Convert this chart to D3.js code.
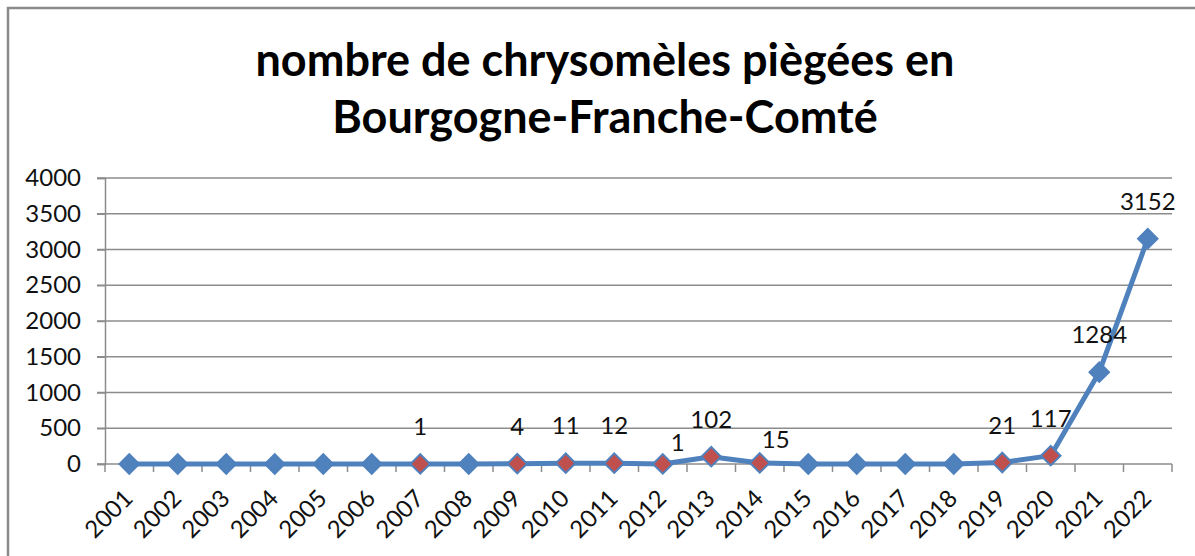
<!DOCTYPE html>
<html><head><meta charset="utf-8">
<script src="https://cdn.jsdelivr.net/npm/d3@7"></script>
<style>
html,body{margin:0;padding:0;background:#fff;}
svg{display:block;font-family:Lato,"Open Sans",sans-serif;}
</style></head>
<body>
<svg id="chart" width="1195" height="556"></svg>
<script>
const years = ["2001","2002","2003","2004","2005","2006","2007","2008","2009","2010","2011","2012","2013","2014","2015","2016","2017","2018","2019","2020","2021","2022"];
const counts = [0,0,0,0,0,0,1,0,4,11,12,1,102,15,0,0,0,0,21,117,1284,3152];
const labelled = ["2007","2009","2010","2011","2012","2013","2014","2019","2020","2021","2022"];
const highlighted = ["2007","2009","2010","2011","2012","2013","2014","2019","2020"];
const yTicks = [0,500,1000,1500,2000,2500,3000,3500,4000];
const titleLines = ["nombre de chrysomèles piègées en","Bourgogne-Franche-Comté"];

// label placement tweaks (layout, not data)
const labelShift = {"2012":[15,16],"2014":[16,14]};

const svg = d3.select("#chart");
const W = 1195, H = 556;
const plot = {left:105, right:1172, top:178, bottom:464};

svg.append("rect").attr("x",8).attr("y",8).attr("width",W+20).attr("height",H+20)
  .attr("fill","#fff").attr("stroke","#8a8a8a").attr("stroke-width",2.5);

// title
svg.append("g").selectAll("text").data(titleLines).join("text")
  .attr("x",605).attr("y",(d,i)=>76+i*57)
  .attr("text-anchor","middle").attr("font-weight","bold").attr("font-size",45)
  .attr("fill","#000").text(d=>d);

const x = d3.scaleBand().domain(years).range([plot.left,plot.right]);
const y = d3.scaleLinear().domain([0,4000]).range([plot.bottom,plot.top]);

// gridlines
svg.append("g").selectAll("line").data(yTicks.filter(v=>v>0)).join("line")
  .attr("x1",plot.left-8).attr("x2",plot.right)
  .attr("y1",d=>y(d)).attr("y2",d=>y(d))
  .attr("stroke","#8c8c8c").attr("stroke-width",1.5);

// y axis
const yAxis = d3.axisLeft(y).tickValues(yTicks).tickSize(8).tickPadding(16).tickFormat(d3.format("d"));
const gy = svg.append("g").attr("transform",`translate(${plot.left},0)`).call(yAxis);
gy.attr("font-size",null).attr("font-family",null);
gy.select(".domain").attr("stroke","#8c8c8c").attr("stroke-width",1.5);
gy.selectAll(".tick line").attr("stroke","#8c8c8c").attr("stroke-width",1.5);
gy.selectAll(".tick text").style("font-size","24px").attr("fill","#111").style("font-family","Lato, 'Open Sans', sans-serif");

// x axis baseline and boundary ticks
const bounds = years.map(d=>x(d)).concat([plot.right]);
svg.append("line").attr("x1",plot.left-8).attr("x2",plot.right)
  .attr("y1",y(0)).attr("y2",y(0)).attr("stroke","#8c8c8c").attr("stroke-width",1.5);
svg.append("g").selectAll("line").data(bounds).join("line")
  .attr("x1",d=>d).attr("x2",d=>d).attr("y1",y(0)).attr("y2",y(0)+8)
  .attr("stroke","#8c8c8c").attr("stroke-width",1.5);

// x labels
const cx = d => x(d)+x.bandwidth()/2;
svg.append("g").selectAll("text").data(years).join("text")
  .attr("transform",d=>`translate(${cx(d)+5},${y(0)+36}) rotate(-45)`)
  .attr("text-anchor","end")
  .style("font-size","24px").attr("fill","#111").text(d=>d);

// line
const pts = years.map((d,i)=>({year:d,v:counts[i]}));
svg.append("path").datum(pts)
  .attr("d",d3.line().x(d=>cx(d.year)).y(d=>y(d.v)))
  .attr("fill","none").attr("stroke","#4F81BD").attr("stroke-width",5).attr("stroke-linejoin","round");

// markers
const diamond = d3.symbol().type(d3.symbolSquare).size(190);
svg.append("g").selectAll("path").data(pts).join("path")
  .attr("d",diamond())
  .attr("transform",d=>`translate(${cx(d.year)},${y(d.v)}) rotate(45)`)
  .attr("fill",d=>highlighted.includes(d.year)?"#C0504D":"#4F81BD")
  .attr("stroke","#4F81BD").attr("stroke-width",2);

// data labels
svg.append("g").selectAll("text").data(pts.filter(d=>labelled.includes(d.year))).join("text")
  .attr("x",d=>cx(d.year)+(labelShift[d.year]?labelShift[d.year][0]:0))
  .attr("y",d=>y(d.v)-35+(labelShift[d.year]?labelShift[d.year][1]:0))
  .attr("text-anchor","middle").attr("dominant-baseline","middle")
  .style("font-size","24px").attr("fill","#111").text(d=>d.v);
</script>
</body></html>
